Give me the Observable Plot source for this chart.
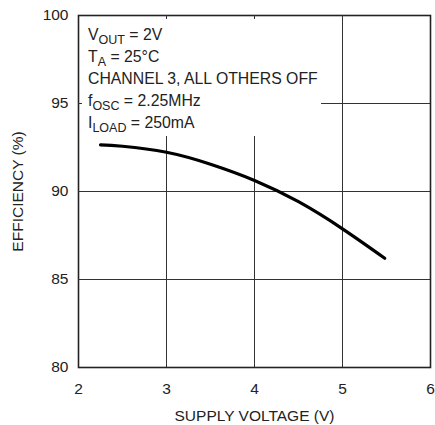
<!DOCTYPE html>
<html>
<head>
<meta charset="utf-8">
<script src="https://cdn.jsdelivr.net/npm/d3@7"></script>
<script src="https://cdn.jsdelivr.net/npm/@observablehq/plot@0.6"></script>
<style>
  html, body { margin: 0; padding: 0; background: #fff; }
  #chart svg { display: block; }
</style>
</head>
<body>
<div id="chart"></div>
<script>
// ---- data ----
const supplyVoltage = [2.25, 2.5, 3, 3.5, 4, 4.5, 5, 5.48];
const efficiency    = [92.65, 92.57, 92.23, 91.55, 90.63, 89.42, 87.88, 86.21];
const xTicks = [2, 3, 4, 5, 6];
const yTicks = [80, 85, 90, 95, 100];
const xLabel = "SUPPLY VOLTAGE (V)";
const yLabel = "EFFICIENCY (%)";
const noteMain = ["V", "T", "CHANNEL 3, ALL OTHERS OFF", "f", "I"];
const noteSub  = ["OUT", "A", "", "OSC", "LOAD"];
const noteRest = [" = 2V", " = 25°C", "", " = 2.25MHz", " = 250mA"];

const data = supplyVoltage.map((v, i) => ({v, e: efficiency[i]}));

const W = 435, H = 425;
const mL = 78, mR = 5, mT = 15, mB = 58;
const innerW = W - mL - mR, innerH = H - mT - mB;
const FONT = "'Liberation Sans', Arial, sans-serif";
const ink = "#222";

const plot = Plot.plot({
  width: W, height: H,
  marginLeft: mL, marginRight: mR, marginTop: mT, marginBottom: mB,
  style: {fontFamily: FONT, fontSize: "15.5px", color: ink, background: "#fff"},
  x: {domain: [2, 6]},
  y: {domain: [80, 100]},
  marks: [
    Plot.ruleX(xTicks.slice(1, -1), {x: d => d, stroke: "#333", strokeWidth: 1}),
    Plot.ruleY(yTicks.slice(1, -1), {y: d => d, stroke: "#333", strokeWidth: 1}),
    Plot.frame({stroke: ink, strokeWidth: 1.6}),
    Plot.ruleX(xTicks.slice(1, -1), {x: d => d, stroke: "#333", strokeWidth: 1, insetBottom: innerH - 4}),
    Plot.ruleY(yTicks.slice(1, -1), {y: d => d, stroke: "#333", strokeWidth: 1, insetRight: innerW - 4}),
    Plot.axisX({ticks: xTicks, tickSize: 0, tickPadding: 15, tickFormat: d => d,
      label: xLabel, labelAnchor: "center", labelOffset: 53, labelArrow: false}),
    Plot.axisY({ticks: yTicks, tickSize: 0, tickPadding: 10, tickFormat: d => d,
      label: yLabel, labelAnchor: "center", labelOffset: 67, labelArrow: false}),
    Plot.line(data, {x: "v", y: "e", stroke: "#000", strokeWidth: 3.2, curve: "natural"})
  ]
});

document.getElementById("chart").appendChild(plot);

// ---- annotation block (through the plot's scales) ----
const sx = plot.scale("x"), sy = plot.scale("y");
const svgSel = d3.select(plot);
const noteG = svgSel.append("g")
  .attr("font-family", FONT)
  .attr("font-size", 15.8)
  .attr("text-anchor", "start")
  .attr("fill", ink);
const noteX = sx.apply(2) + 10;
const noteY = sy.apply(100) + 25;
noteMain.forEach((m, i) => {
  const t = noteG.append("text").attr("x", noteX).attr("y", noteY + i * 22)
    .attr("text-anchor", "start");
  t.append("tspan").text(m);
  if (noteSub[i]) {
    t.append("tspan").attr("font-size", 12.5).attr("dy", 4).text(noteSub[i]);
    t.append("tspan").attr("dy", -4).text(noteRest[i]);
  }
});

// white box behind the annotation, masking the grid
const bb = noteG.node().getBBox();
const frameEl = plot.querySelector('[aria-label="frame"]');
const maskLeft = sx.apply(2), maskTop = sy.apply(100) + 4;
const maskRect = document.createElementNS("http://www.w3.org/2000/svg", "rect");
maskRect.setAttribute("x", maskLeft);
maskRect.setAttribute("y", maskTop);
maskRect.setAttribute("width", bb.x + bb.width + 3 - maskLeft);
maskRect.setAttribute("height", bb.y + bb.height + 1 - maskTop);
maskRect.setAttribute("fill", "#fff");
if (frameEl) frameEl.parentNode.insertBefore(maskRect, frameEl);
</script>
</body>
</html>
